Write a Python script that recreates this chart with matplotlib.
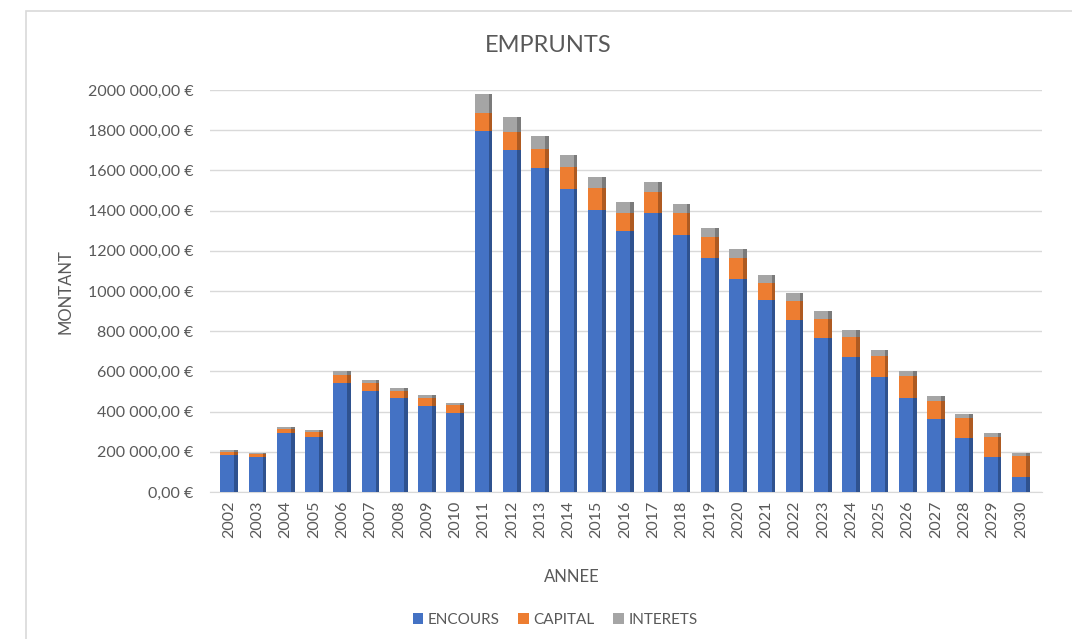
"""EMPRUNTS: stacked bars of encours / capital / interets per year."""
import matplotlib
matplotlib.use("Agg")
import matplotlib.pyplot as plt
from matplotlib.patches import Rectangle
from matplotlib.ticker import FuncFormatter, MultipleLocator
import numpy as np

annees = [str(a) for a in range(2002, 2031)]

encours = [183000, 175000, 295000, 275000, 545000, 503000, 467000, 430000,
           392000, 1795000, 1700000, 1610000, 1510000, 1405000, 1300000,
           1387000, 1280000, 1165000, 1060000, 955000, 858000, 767000,
           670000, 570000, 470000, 363000, 270000, 175000, 75000]
capital = [17000, 12000, 17000, 22000, 35000, 38000, 36000, 40000, 41000,
           90000, 92000, 95000, 105000, 108000, 90000, 105000, 110000,
           105000, 107000, 87000, 95000, 95000, 100000, 105000, 105000,
           92000, 97000, 100000, 105000]
interets = [10000, 8000, 13000, 11000, 20000, 18000, 17000, 13000, 12000,
            95000, 75000, 67000, 60000, 57000, 52000, 53000, 45000, 42000,
            42000, 37000, 39000, 38000, 35000, 32000, 28000, 25000, 20000,
            17000, 12000]

series = [("ENCOURS", encours, "#4472C4", "#2F528F"),
          ("CAPITAL", capital, "#ED7D31", "#AE5A21"),
          ("INTERETS", interets, "#A5A5A5", "#7B7B7B")]

GREY = "#595959"
plt.rcParams["font.family"] = ["Lato", "DejaVu Sans"]


def euro(v, _pos=None):
    v = int(round(v))
    if v == 0:
        return "0,00 €"
    return f"{v // 1000} {v % 1000:03d},00 €"


fig = plt.figure(figsize=(10.72, 6.39), dpi=100)
ax = fig.add_axes([0.196, 0.230, 0.776, 0.629])

x = np.arange(len(annees))
bottom = np.zeros(len(annees))
for name, vals, col, dark in series:
    vals = np.asarray(vals, dtype=float)
    ax.bar(x - 0.06, vals, width=0.5, bottom=bottom, color=col,
           label=name, zorder=3)
    # darker right side to mimic the 3D column look
    ax.bar(x + 0.25, vals, width=0.13, bottom=bottom, color=dark, zorder=3)
    bottom += vals

ax.set_xlim(-0.67, len(annees) - 0.25)
ax.set_ylim(0, 2000000)
ax.yaxis.set_major_locator(MultipleLocator(200000))
ax.yaxis.set_major_formatter(FuncFormatter(euro))
ax.set_xticks(x)
ax.set_xticklabels(annees, rotation=90)
ax.tick_params(axis="both", length=0, colors=GREY, labelsize=11.5)
ax.tick_params(axis="y", pad=12)
ax.tick_params(axis="x", pad=6)
ax.grid(axis="y", color="#D9D9D9", linewidth=1, zorder=0)
for s in ["top", "right", "left"]:
    ax.spines[s].set_visible(False)
ax.spines["bottom"].set_color("#D9D9D9")

fig.text(548 / 1072, 1 - 45 / 639, "EMPRUNTS", fontsize=17, color=GREY,
         ha="center", va="center")
fig.text(65 / 1072, 1 - 292 / 639, "MONTANT", fontsize=12, color=GREY,
         ha="center", va="center", rotation=90)
fig.text(572 / 1072, 1 - 577 / 639, "ANNEE", fontsize=12, color=GREY,
         ha="center", va="center")

handles, labels = ax.get_legend_handles_labels()
fig.legend(handles, labels, loc="center", bbox_to_anchor=(0.518, 0.03),
           ncol=3, frameon=False, fontsize=11, labelcolor=GREY,
           handlelength=0.7, handleheight=0.7, handletextpad=0.3,
           columnspacing=1.2)

# outer chart frame
fig.patches.append(Rectangle((26 / 1072, -0.1), 1.2, 1 - 11 / 639 + 0.1,
                             transform=fig.transFigure, fill=False,
                             edgecolor="#D9D9D9", linewidth=1.2))

fig.savefig("out.png", dpi=100)
